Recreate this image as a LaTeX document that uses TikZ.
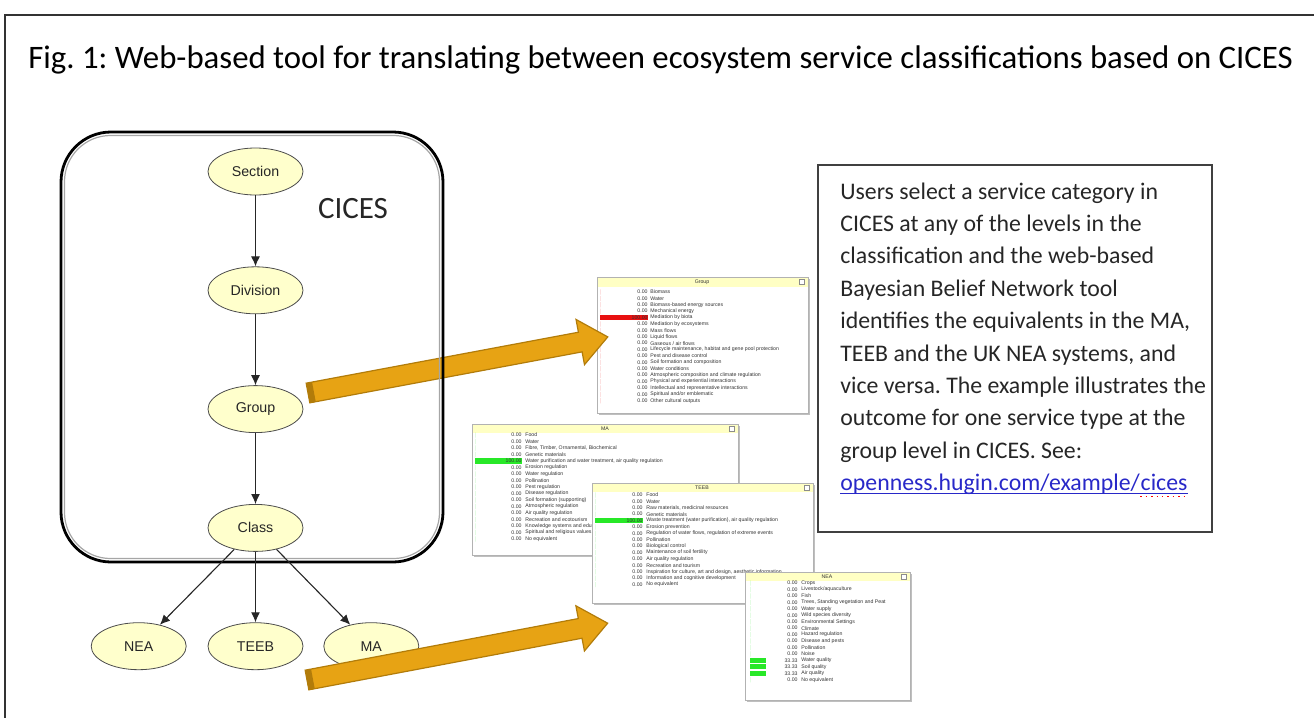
\documentclass[tikz,border=0pt]{standalone}
\usepackage{fontspec}
\setmainfont{Carlito}
\newfontfamily\huginfont{Liberation Sans}
\usetikzlibrary{%
    arrows.meta,
    calc,
    positioning,
    shapes.geometric
}
\frenchspacing
\definecolor{ellfill}{RGB}{255,255,204}
\definecolor{barfill}{RGB}{255,255,196}
\definecolor{goldfill}{RGB}{231,163,20}
\definecolor{golddark}{RGB}{178,124,10}
\definecolor{linkblue}{RGB}{40,40,200}
\definecolor{barred}{RGB}{232,16,16}
\definecolor{bargreen}{RGB}{40,232,40}
\tikzset{headarrow/.style = {-{Latex[length=5pt,width=4.5pt]}, draw=black!85, line width=.55pt}}
\tikzset{
    levelnode/.style = {ellipse, draw=black!70, fill=ellfill, minimum width=47.5pt,
        minimum height=23.5pt, inner sep=0pt, text=black!85,
        font=\huginfont\fontsize{7.1}{8}\selectfont},
    ciceframe/.style = {draw=black, line width=1.4pt, rounded corners=25pt},
    panelbox/.style = {draw=black!30, fill=white, line width=.5pt},
    panelshadow/.style = {fill=black!25},
    titlebar/.style = {fill=barfill},
    cellfont/.style = {font=\huginfont\fontsize{2.6}{3}\selectfont, text=black!80, inner sep=0pt},
    pnum/.style = {cellfont, anchor=east},
    plabel/.style = {cellfont, anchor=west},
    closebox/.style = {draw=black!45, fill=white, minimum size=2.6pt, inner sep=0pt},
    goldarrow/.style = {fill=goldfill, draw=golddark, line width=.6pt, line join=miter},
    desc/.style = {anchor=base west, inner sep=0pt, text=black!85, font=\fontsize{11.9}{14}\selectfont}
}

\begin{document}
\begin{tikzpicture}[x=0.5pt, y=-0.5pt]
    \useasboundingbox (0,0) rectangle (1314,718);
    \draw[black!80, line width=1pt] (5,15) rectangle (1330,740);
    \node[anchor=base west, inner sep=0pt, font=\fontsize{16.4}{19}\selectfont] (fig) at (28,68)
        {Fig. 1: Web-based tool for translating between ecosystem service classifications based on CICES};

    % Group panel
    \coordinate (grp) at (597,277);
    \fill[panelshadow] ($(grp)+(2,2)$) rectangle ++(211,136);
    \draw[panelbox] (grp) rectangle ++(211,136);
    \fill[titlebar] ($(grp)+(0.5,0.5)$) rectangle ++(210,9.5);
    \node[cellfont] (grp-title) at ($(grp)+(105,5)$) {Group};
    \node[closebox] (grp-close) at ($(grp)+(205,5)$) {};
    \foreach \v/\b/\t [count=\i] in {0.00/0/Biomass, 0.00/0/Water, 0.00/0/Biomass-based energy sources,
        0.00/0/Mechanical energy, 100.00/100/Mediation by biota, 0.00/0/Mediation by ecosystems,
        0.00/0/Mass flows, 0.00/0/Liquid flows, 0.00/0/{Gaseous / air flows},
        0.00/0/{Lifecycle maintenance, habitat and gene pool protection}, 0.00/0/Pest and disease control,
        0.00/0/Soil formation and composition, 0.00/0/Water conditions,
        0.00/0/Atmospheric composition and climate regulation, 0.00/0/Physical and experiential interactions,
        0.00/0/Intellectual and representative interactions, 0.00/0/{Spiritual and/or emblematic},
        0.00/0/Other cultural outputs} {
        \fill[barred] ($(grp)+(3,{15+(\i-1)*6.4-2.6})$) rectangle ++({\b*0.48},5.2);
        \node[pnum] (grp-v\i) at ($(grp)+(51,{15+(\i-1)*6.4})$) {\v};
        \node[plabel] (grp-l\i) at ($(grp)+(53,{15+(\i-1)*6.4})$) {\t};
    }

    % MA panel
    \coordinate (mapan) at (472,424);
    \fill[panelshadow] ($(mapan)+(2,2)$) rectangle ++(266,131);
    \draw[panelbox] (mapan) rectangle ++(266,131);
    \fill[titlebar] ($(mapan)+(0.5,0.5)$) rectangle ++(265,8.5);
    \node[cellfont] (ma-title) at ($(mapan)+(133,4.5)$) {MA};
    \node[closebox] (ma-close) at ($(mapan)+(260,4.5)$) {};
    \foreach \v/\b/\t [count=\i] in {0.00/0/Food, 0.00/0/Water, 0.00/0/{Fibre, Timber, Ornamental, Biochemical},
        0.00/0/Genetic materials,
        100.00/100/{Water purification and water treatment, air quality regulation},
        0.00/0/Erosion regulation, 0.00/0/Water regulation, 0.00/0/Pollination, 0.00/0/Pest regulation,
        0.00/0/Disease regulation, 0.00/0/Soil formation (supporting), 0.00/0/Atmospheric regulation,
        0.00/0/Air quality regulation, 0.00/0/Recreation and ecotourism,
        0.00/0/Knowledge systems and educational values, 0.00/0/Spiritual and religious values,
        0.00/0/No equivalent} {
        \fill[bargreen] ($(mapan)+(3,{11+(\i-1)*6.5-2.6})$) rectangle ++({\b*0.47},5.2);
        \node[pnum] (ma-v\i) at ($(mapan)+(50,{11+(\i-1)*6.5})$) {\v};
        \node[plabel] (ma-l\i) at ($(mapan)+(53,{11+(\i-1)*6.5})$) {\t};
    }

    % TEEB panel
    \coordinate (teebpan) at (592,483);
    \fill[panelshadow] ($(teebpan)+(2,2)$) rectangle ++(221,120);
    \draw[panelbox] (teebpan) rectangle ++(221,120);
    \fill[titlebar] ($(teebpan)+(0.5,0.5)$) rectangle ++(220,8.5);
    \node[cellfont] (teeb-title) at ($(teebpan)+(110,4.5)$) {TEEB};
    \node[closebox] (teeb-close) at ($(teebpan)+(215,4.5)$) {};
    \foreach \v/\b/\t [count=\i] in {0.00/0/Food, 0.00/0/Water, 0.00/0/{Raw materials, medicinal resources},
        0.00/0/Genetic materials,
        100.00/100/{Waste treatment (water purification), air quality regulation},
        0.00/0/Erosion prevention, 0.00/0/{Regulation of water flows, regulation of extreme events},
        0.00/0/Pollination, 0.00/0/Biological control, 0.00/0/Maintenance of soil fertility,
        0.00/0/Air quality regulation, 0.00/0/Recreation and tourism,
        0.00/0/{Inspiration for culture, art and design, aesthetic information},
        0.00/0/Information and cognitive development, 0.00/0/No equivalent} {
        \fill[bargreen] ($(teebpan)+(3,{12+(\i-1)*6.4-2.6})$) rectangle ++({\b*0.48},5.2);
        \node[pnum] (teeb-v\i) at ($(teebpan)+(51,{12+(\i-1)*6.4})$) {\v};
        \node[plabel] (teeb-l\i) at ($(teebpan)+(54,{12+(\i-1)*6.4})$) {\t};
    }

    % NEA panel
    \coordinate (neapan) at (745,572);
    \fill[panelshadow] ($(neapan)+(2,2)$) rectangle ++(165,128);
    \draw[panelbox] (neapan) rectangle ++(165,128);
    \fill[titlebar] ($(neapan)+(0.5,0.5)$) rectangle ++(164,8.5);
    \node[cellfont] (nea-title) at ($(neapan)+(82,4.5)$) {NEA};
    \node[closebox] (nea-close) at ($(neapan)+(159,4.5)$) {};
    \foreach \v/\b/\t [count=\i] in {0.00/0/Crops, 0.00/0/{Livestock/aquaculture}, 0.00/0/Fish,
        0.00/0/{Trees, Standing vegetation and Peat}, 0.00/0/Water supply, 0.00/0/Wild species diversity,
        0.00/0/Environmental Settings, 0.00/0/Climate, 0.00/0/Hazard regulation, 0.00/0/Disease and pests,
        0.00/0/Pollination, 0.00/0/Noise, 33.33/33.33/Water quality, 33.33/33.33/Soil quality,
        33.33/33.33/Air quality, 0.00/0/No equivalent} {
        \fill[bargreen] ($(neapan)+(5,{11+(\i-1)*6.45-2.6})$) rectangle ++({\b*0.48},5.2);
        \node[pnum] (nea-v\i) at ($(neapan)+(53,{11+(\i-1)*6.45})$) {\v};
        \node[plabel] (nea-l\i) at ($(neapan)+(56,{11+(\i-1)*6.45})$) {\t};
    }

    % arrow from the group level to its result
    \coordinate (a1s) at (308,393);
    \begin{scope}[shift={(a1s)}, rotate=10.6]
        \filldraw[goldarrow] (0,-10) -- (277,-10) -- (277,-23) -- (305,0) -- (277,23) -- (277,10) -- (0,10) -- cycle;
        \fill[golddark] (0,-10) rectangle (6,10);
    \end{scope}

    % CICES hierarchy
    \draw[ciceframe] (61,132) rectangle (443,562);
    \draw[black!35, line width=.6pt, rounded corners=23pt] (64.5,135.5) rectangle (439.5,558.5);
    \node[font=\fontsize{15.5}{18}\selectfont, text=black!85] (cices) at (353,209) {CICES};

    \node[levelnode] (sec) at (255.5,171.5) {Section};
    \node[levelnode] (div) [below=35.5pt of sec] {Division};
    \node[levelnode] (grpn) [below=35.5pt of div] {Group};
    \node[levelnode] (cls) [below=35.5pt of grpn] {Class};
    \node[levelnode] (teeb) [below=35.25pt of cls] {TEEB};
    \node[levelnode] (nea) [left=10.5pt of teeb] {NEA};
    \node[levelnode] (ma) [right=10pt of teeb] {MA};

    \draw[headarrow] (sec) -- (div);
    \draw[headarrow] (div) -- (grpn);
    \draw[headarrow] (grpn) -- (cls);
    \draw[headarrow] (cls) -- (nea);
    \draw[headarrow] (cls) -- (teeb);
    \draw[headarrow] (cls) -- (ma);

    % arrow from the other systems back to CICES
    \coordinate (a2s) at (307,680);
    \begin{scope}[shift={(a2s)}, rotate=10.7]
        \filldraw[goldarrow] (0,-10) -- (278,-10) -- (278,-23) -- (306,0) -- (278,23) -- (278,10) -- (0,10) -- cycle;
        \fill[golddark] (0,-10) rectangle (6,10);
    \end{scope}

    % explanation
    \draw[black!75, line width=.8pt] (818,165) rectangle (1212,532);
    \foreach \l [count=\i] in {Users select a service category in, CICES at any of the levels in the,
        classification and the web-based, Bayesian Belief Network tool,
        {identifies the equivalents in the MA,}, {TEEB and the UK NEA systems, and},
        vice versa. The example illustrates the, outcome for one service type at the,
        group level in CICES. See:} {
        \node[desc] (desc\i) at (840,{199+(\i-1)*32.4}) {\l};
    }
    \node[desc, text=linkblue] (lnk) at (840,490.6) {openness.hugin.com/example/};
    \node[desc, text=linkblue] (lnkend) at (lnk.base east) {cices};
    \draw[linkblue, line width=.5pt] ($(lnk.base west)+(0,3)$) -- ($(lnkend.base east)+(0,3)$);
    \draw[red, dotted, line width=.7pt] ($(lnkend.base west)+(0,6)$) -- ($(lnkend.base east)+(0,6)$);
\end{tikzpicture}
\end{document}
